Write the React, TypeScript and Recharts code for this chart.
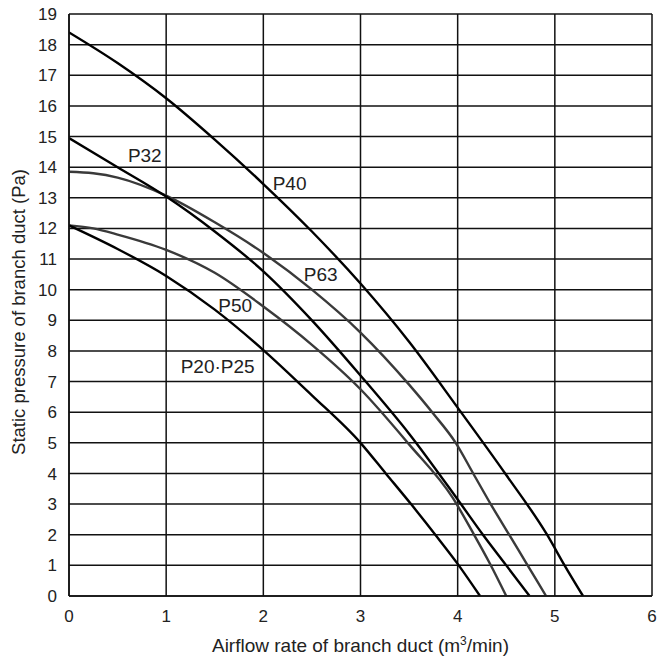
import { CartesianGrid, Line, LineChart, ReferenceDot, XAxis, YAxis } from "recharts";

// axis ticks
const xTicks = [0, 1, 2, 3, 4, 5, 6];
const xMinorTicks = [0.5, 1.5, 2.5, 3.5, 4.5, 5.5];
const yTicks = [0, 1, 2, 3, 4, 5, 6, 7, 8, 9, 10, 11, 12, 13, 14, 15, 16, 17, 18, 19];
const yMinorTicks = [
  0.5, 1.5, 2.5, 3.5, 4.5, 5.5, 6.5, 7.5, 8.5, 9.5, 10.5, 11.5, 12.5, 13.5, 14.5, 15.5, 16.5, 17.5, 18.5
];

// curves: [airflow m3/min, static pressure Pa]
const p40 = [
  [0, 18.4], [0.5, 17.4], [1, 16.25], [1.5, 14.9], [2, 13.45], [2.5, 11.9], [3, 10.2],
  [3.5, 8.3], [4, 6.15], [4.5, 3.95], [4.92, 2.0], [5.1, 1.0], [5.29, 0]
];
const p63 = [
  [0, 13.85], [0.25, 13.8], [0.5, 13.66], [1, 13.07], [1.5, 12.2], [2, 11.2], [2.5, 10.0],
  [3, 8.6], [3.5, 6.9], [3.75, 5.95], [3.98, 5], [4.16, 4], [4.34, 3], [4.53, 2], [4.72, 1], [4.91, 0]
];
const p32 = [
  [0, 14.95], [0.5, 14.0], [1, 13.04], [1.5, 11.9], [2, 10.6], [2.5, 9.0], [3, 7.2],
  [3.5, 5.3], [4, 3.15], [4.26, 2.0], [4.5, 1.0], [4.74, 0]
];
const p50 = [
  [0, 12.1], [0.25, 12.0], [0.5, 11.8], [1, 11.3], [1.5, 10.55], [2, 9.45], [2.5, 8.2], [3, 6.75],
  [3.5, 4.95], [3.95, 3.2], [4.16, 2.05], [4.33, 1.07], [4.5, 0]
];
const p20 = [
  [0, 12.1], [0.5, 11.33], [1, 10.45], [1.5, 9.35], [2, 8.03], [2.5, 6.55], [3, 5.0],
  [3.26, 4], [3.52, 3], [3.77, 2], [4, 1.05], [4.23, 0]
];

// where the curve names sit
const curveLabels = [
  { text: "P32", x: 0.78, y: 14.4 },
  { text: "P40", x: 2.27, y: 13.48 },
  { text: "P63", x: 2.59, y: 10.51 },
  { text: "P50", x: 1.71, y: 9.5 },
  { text: "P20·P25", x: 1.53, y: 7.51 }
];

const toPoints = (pairs: number[][]) => pairs.map(([x, y]) => ({ x, y }));

const series = [
  { name: "P40", data: toPoints(p40), color: "#000" },
  { name: "P63", data: toPoints(p63), color: "#3a3a3a" },
  { name: "P32", data: toPoints(p32), color: "#000" },
  { name: "P50", data: toPoints(p50), color: "#3a3a3a" },
  { name: "P20·P25", data: toPoints(p20), color: "#000" }
];

const FONT = "'Liberation Sans', Arial, Helvetica, sans-serif";
const TEXT = "#222";

type Box = { x: number; y: number; width: number; height: number };

function XTitle({ viewBox }: { viewBox?: Box }) {
  if (!viewBox) return null;
  const cx = viewBox.x + viewBox.width / 2;
  return (
    <text x={cx} y={viewBox.y + 56} textAnchor="middle" fontSize={19} fill={TEXT} fontFamily={FONT}>
      <tspan>Airflow rate of branch duct (m</tspan>
      <tspan dy={-7} fontSize={12}>3</tspan>
      <tspan dy={7}>/min)</tspan>
    </text>
  );
}

function YTitle({ viewBox }: { viewBox?: Box }) {
  if (!viewBox) return null;
  const x = viewBox.x + 25;
  const y = viewBox.y + viewBox.height / 2 + 7;
  return (
    <text
      x={x}
      y={y}
      transform={`rotate(-90 ${x} ${y})`}
      textAnchor="middle"
      fontSize={18.5}
      fill={TEXT}
      fontFamily={FONT}
    >
      Static pressure of branch duct (Pa)
    </text>
  );
}

export default function App() {
  return (
    <div
      style={{
        position: "absolute",
        left: 0,
        top: 0,
        width: 661,
        height: 661,
        fontFamily: FONT,
        background: "#fff"
      }}
    >
      <LineChart width={661} height={661} margin={{ top: 14, right: 9, bottom: 0, left: 0 }}>
        <CartesianGrid stroke="#111" strokeWidth={1.5} />
        <XAxis
          dataKey="x"
          type="number"
          domain={[0, 6]}
          ticks={xTicks}
          interval={0}
          allowDataOverflow
          height={65}
          tickLine={false}
          tickSize={6}
          tickMargin={8}
          axisLine={{ stroke: "#111", strokeWidth: 1.5 }}
          tick={{ fontSize: 17, fill: TEXT, fontFamily: FONT }}
          label={<XTitle />}
        />
        <XAxis
          xAxisId="minor"
          type="number"
          domain={[0, 6]}
          ticks={xMinorTicks}
          interval={0}
          allowDataOverflow
          orientation="bottom"
          mirror
          height={0}
          tick={false}
          axisLine={false}
          tickSize={7}
          tickLine={{ stroke: "#111", strokeWidth: 1.5 }}
        />
        <YAxis
          type="number"
          domain={[0, 19]}
          ticks={yTicks}
          interval={0}
          allowDataOverflow
          width={69}
          tickLine={false}
          tickSize={6}
          tickMargin={6}
          axisLine={{ stroke: "#111", strokeWidth: 1.5 }}
          tick={{ fontSize: 17, fill: TEXT, fontFamily: FONT }}
          label={<YTitle />}
        />
        <YAxis
          yAxisId="minor"
          type="number"
          domain={[0, 19]}
          ticks={yMinorTicks}
          interval={0}
          allowDataOverflow
          orientation="left"
          mirror
          width={0}
          tick={false}
          axisLine={false}
          tickSize={6}
          tickLine={{ stroke: "#111", strokeWidth: 1.5 }}
        />
        {series.map((s) => (
          <Line
            key={s.name}
            data={s.data}
            dataKey="y"
            name={s.name}
            type="monotone"
            stroke={s.color}
            strokeWidth={2.4}
            dot={false}
            activeDot={false}
            isAnimationActive={false}
          />
        ))}
        {curveLabels.map((l) => (
          <ReferenceDot
            key={l.text}
            x={l.x}
            y={l.y}
            r={1}
            fill="none"
            stroke="none"
            label={{ value: l.text, position: "center", fontSize: 19, fill: TEXT, fontFamily: FONT }}
          />
        ))}
      </LineChart>
    </div>
  );
}
